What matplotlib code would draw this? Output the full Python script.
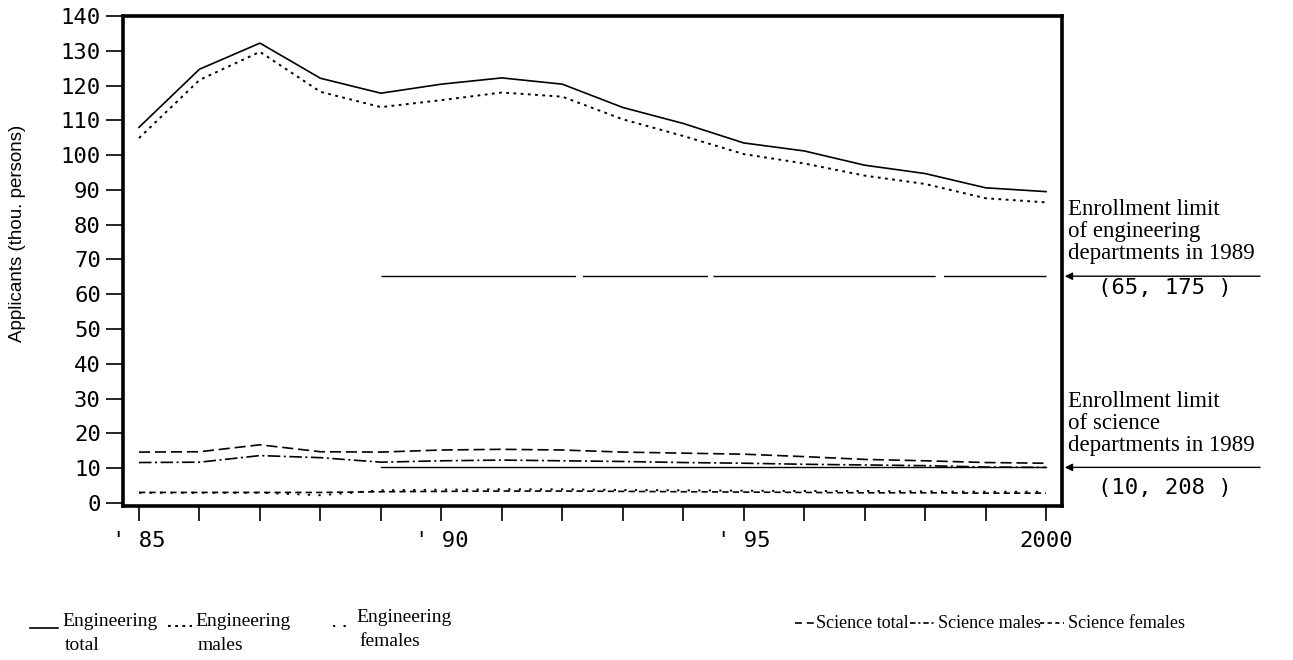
import matplotlib
matplotlib.use("Agg")
import matplotlib.pyplot as plt
from matplotlib.lines import Line2D
from matplotlib.transforms import blended_transform_factory

# Applicants to university departments, thousands of persons
years = list(range(1985, 2001))
eng_total = [108.0, 124.7, 132.2, 122.1, 117.8, 120.4, 122.2, 120.4,
             113.7, 109.1, 103.5, 101.2, 97.1, 94.7, 90.6, 89.5]
eng_males = [104.9, 121.6, 129.7, 118.2, 113.8, 115.8, 118.0, 116.8,
             110.3, 105.5, 100.3, 97.6, 94.1, 91.7, 87.6, 86.4]
eng_females = [2.9, 2.9, 2.9, 2.2, 3.6, 3.8, 3.9, 3.9,
               3.7, 3.6, 3.5, 3.4, 3.4, 3.3, 3.2, 3.2]
sci_total = [14.6, 14.7, 16.7, 14.7, 14.6, 15.2, 15.4, 15.2,
             14.6, 14.3, 14.0, 13.3, 12.5, 12.1, 11.6, 11.4]
sci_males = [11.6, 11.7, 13.6, 13.0, 11.7, 12.1, 12.3, 12.1,
             11.9, 11.6, 11.4, 11.1, 10.9, 10.7, 10.3, 10.2]
sci_females = [3.0, 3.0, 3.0, 3.0, 3.2, 3.3, 3.4, 3.4,
               3.3, 3.2, 3.1, 3.0, 2.9, 2.9, 2.8, 2.8]

# Enrollment limits set in 1989 (thousands)
limit_years = [1989, 2000]
eng_limit = 65.175
sci_limit = 10.208
eng_limit_label = "(65, 175 )"
sci_limit_label = "(10, 208 )"

y_ticks = list(range(0, 141, 10))
x_label_years = [1985, 1990, 1995, 2000]
x_tick_labels = ["' 85", "' 90", "' 95", "2000"]

plt.rcParams["lines.scale_dashes"] = False

W, H = 1293, 660
fig = plt.figure(figsize=(W / 100, H / 100), dpi=100)
fig.patch.set_facecolor("white")


def fx(px):
    return px / W


def fy(py):
    return 1 - py / H


ax = fig.add_axes([fx(123), fy(506), fx(1062) - fx(123), fy(16) - fy(506)])

styles = {
    "eng_total": dict(linestyle="-", lw=1.2),
    "eng_males": dict(linestyle=(0, (2.0, 3.2)), lw=1.4),
    "eng_females": dict(linestyle=(0, (1.6, 6.0)), lw=1.4),
    "sci_total": dict(linestyle=(0, (8.0, 3.5)), lw=1.2),
    "sci_males": dict(linestyle=(0, (9.0, 2.5, 1.5, 2.5)), lw=1.2),
    "sci_females": dict(linestyle=(0, (4.5, 3.0)), lw=1.2),
}
# shorter patterns for the small legend samples
legend_styles = {
    "eng_total": dict(linestyle="-", lw=1.2),
    "eng_males": dict(linestyle=(0, (2.0, 3.2)), lw=1.4),
    "eng_females": dict(linestyle=(0, (1.6, 6.0)), lw=1.4),
    "sci_total": dict(linestyle=(0, (5.0, 3.5)), lw=1.2),
    "sci_males": dict(linestyle=(0, (4.0, 2.0, 1.5, 2.0)), lw=1.2),
    "sci_females": dict(linestyle=(0, (3.0, 2.5)), lw=1.2),
}

ax.plot(years, eng_total, color="black", **styles["eng_total"])
ax.plot(years, eng_males, color="black", **styles["eng_males"])
ax.plot(years, sci_total, color="black", **styles["sci_total"])
ax.plot(years, sci_males, color="black", **styles["sci_males"])
ax.plot(years, sci_females, color="black", **styles["sci_females"])
ax.plot(years, eng_females, color="black", **styles["eng_females"])

# 1989 enrollment limits
ax.plot(limit_years, [eng_limit, eng_limit], color="black", lw=1.0,
        linestyle=(0, (140, 5, 90, 4, 160, 6)))
ax.plot(limit_years, [sci_limit, sci_limit], color="black", lw=1.0)

ax.set_xlim(1984.735, 2000.264)
ax.set_ylim(-0.9, 140)

ax.set_yticks(y_ticks)
ax.set_yticklabels([str(v) for v in y_ticks], family="DejaVu Sans Mono",
                   fontsize=16)
ax.set_xticks(years)
ax.set_xticklabels([x_tick_labels[x_label_years.index(y)] if y in x_label_years
                    else "" for y in years],
                   family="DejaVu Sans Mono", fontsize=16)
ax.tick_params(axis="y", direction="out", length=12, width=1.2, pad=4)
ax.tick_params(axis="x", direction="out", length=11, width=1.2, pad=7)
for s in ax.spines.values():
    s.set_linewidth(2.6)

fig.text(fx(18), fy(233), "Applicants (thou. persons)", rotation=90,
         ha="center", va="center", fontsize=13.5, family="Liberation Sans")

# limit annotations on the right
trans = blended_transform_factory(ax.transAxes, ax.transData)
x_end = (1260 - 123) / (1062 - 123)
for val in (eng_limit, sci_limit):
    ax.annotate("", xy=(1.003, val), xycoords=trans,
                xytext=(x_end, val), textcoords=trans,
                arrowprops=dict(arrowstyle="-|>", lw=1.0, color="black",
                                mutation_scale=11, shrinkA=0, shrinkB=0),
                annotation_clip=False)

serif = "Liberation Serif"
fig.text(fx(1068), fy(259),
         "Enrollment limit\nof engineering\ndepartments in 1989",
         ha="left", va="baseline", fontsize=16.5, family=serif,
         linespacing=1.05)
fig.text(fx(1165), fy(288), eng_limit_label, ha="center", va="center",
         fontsize=16, family="DejaVu Sans Mono")
fig.text(fx(1068), fy(451),
         "Enrollment limit\nof science\ndepartments in 1989",
         ha="left", va="baseline", fontsize=16.5, family=serif,
         linespacing=1.05)
fig.text(fx(1165), fy(488), sci_limit_label, ha="center", va="center",
         fontsize=16, family="DejaVu Sans Mono")

# legend, drawn by hand along the bottom
legend_items = [
    ("eng_total", (30, 58, 628), "Engineering\ntotal", (62, 622)),
    ("eng_males", (168, 192, 626), "Engineering\nmales", (195, 622)),
    ("eng_females", (333, 350, 626), "Engineering\nfemales", (356, 617)),
    ("sci_total", (795, 814, 623), "Science total", (816, 623)),
    ("sci_males", (910, 934, 623), "Science males", (938, 623)),
    ("sci_females", (1040, 1064, 623), "Science females", (1068, 623)),
]
for key, (x0, x1, ly), label, (tx, ty) in legend_items:
    fig.add_artist(Line2D([fx(x0), fx(x1)], [fy(ly), fy(ly)],
                          transform=fig.transFigure, color="black",
                          **legend_styles[key]))
    if "\n" in label:
        first, second = label.split("\n")
        fig.text(fx(tx), fy(ty), first, ha="left", va="center",
                 fontsize=14, family=serif)
        fig.text(fx(tx + 3), fy(ty + 24), second, ha="left", va="center",
                 fontsize=14, family=serif)
    else:
        fig.text(fx(tx), fy(ty), label, ha="left", va="center",
                 fontsize=13, family=serif)

fig.savefig("out.png", dpi=100, facecolor="white")
